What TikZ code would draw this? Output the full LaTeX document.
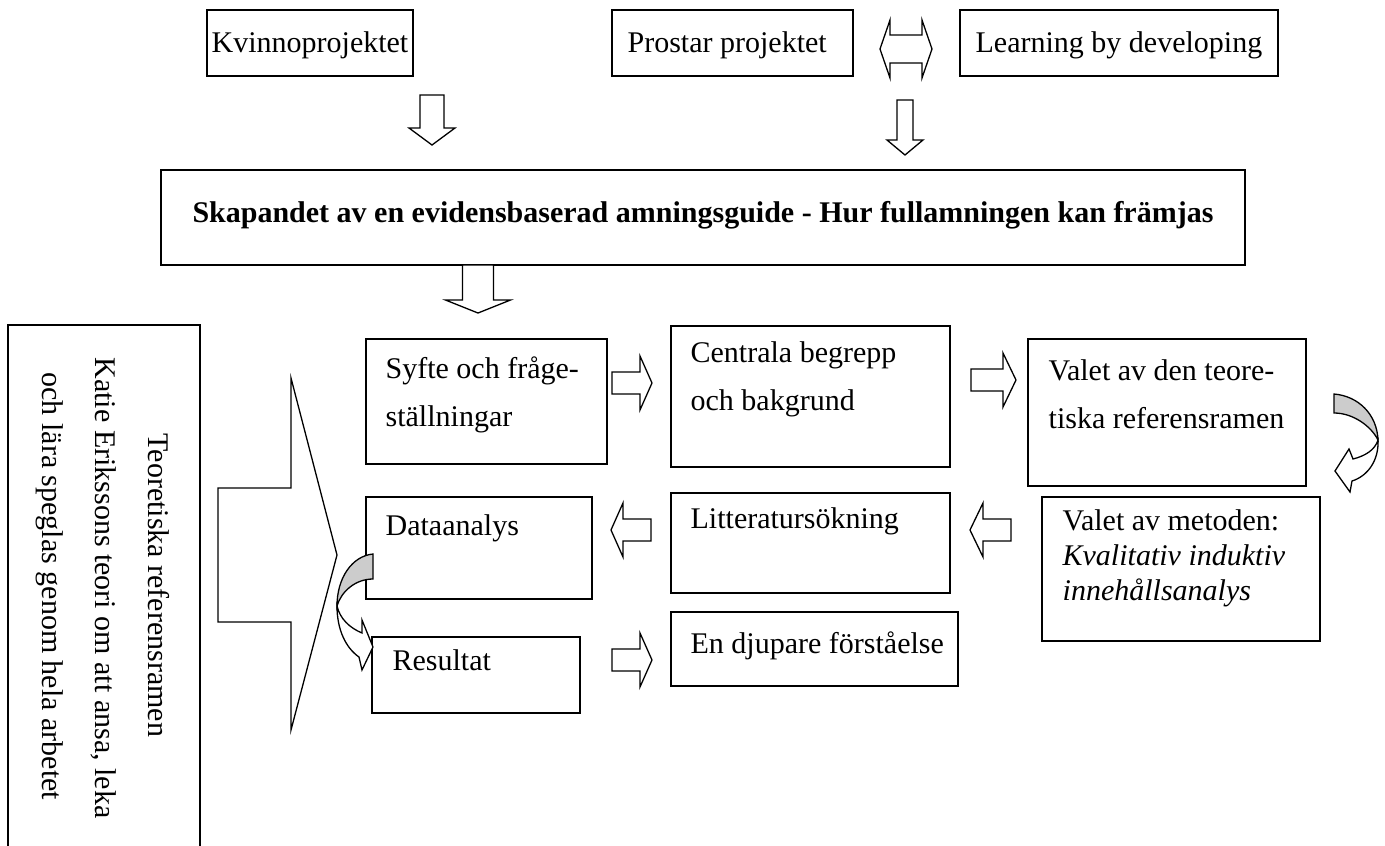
\documentclass[tikz,border=0pt]{standalone}
\usepackage{fontspec}
\setmainfont{Liberation Serif}
\newcommand\blkR[6]{\draw[blk] (#1,#3-#4) -- (#2-#6,#3-#4) -- (#2-#6,#3-#5) -- (#2,#3) -- (#2-#6,#3+#5) -- (#2-#6,#3+#4) -- (#1,#3+#4) -- cycle;}
\newcommand\blkL[6]{\draw[blk] (#2,#3-#4) -- (#1+#6,#3-#4) -- (#1+#6,#3-#5) -- (#1,#3) -- (#1+#6,#3+#5) -- (#1+#6,#3+#4) -- (#2,#3+#4) -- cycle;}
\newcommand\blkD[6]{\draw[blk] (#1-#4,#2) -- (#1-#4,#3-#6) -- (#1-#5,#3-#6) -- (#1,#3) -- (#1+#5,#3-#6) -- (#1+#4,#3-#6) -- (#1+#4,#2) -- cycle;}
\begin{document}
\begin{tikzpicture}[x=1pt,y=-1pt,
  line width=1.3pt, line join=miter,
  box/.style={draw, rectangle, inner sep=0pt, outer sep=0pt, anchor=north west},
  txt/.style={inner sep=0pt, anchor=base west, align=left, font=\fontsize{30}{48}\selectfont},
  blk/.style={draw, fill=white},
  curl/.style={draw, fill=gray!40}]
\useasboundingbox (0,0) rectangle (1385,846);

% top row
\node[box, minimum width=206pt, minimum height=66pt] (kvinno) at (207,10) {};
\node[box, minimum width=241pt, minimum height=66pt] (prostar) at (612,10) {};
\node[box, minimum width=318pt, minimum height=66pt] (learning) at (960,10) {};
\node[txt, anchor=base] (kvinnotxt) at (310,52) {Kvinnoprojektet};
\node[txt] (prostartxt) at (627,52) {Prostar projektet};
\node[txt] (learningtxt) at (975,52) {Learning by developing};

% double arrow
\draw[blk] (880,49) -- (890,20) -- (890,35) -- (922,35) -- (922,20) -- (932,49) -- (922,78) -- (922,63) -- (890,63) -- (890,78) -- cycle;

% down arrows
\blkD{432}{95}{145}{12}{23}{17}
\blkD{905}{100}{155}{8}{18}{15}

% title
\node[box, minimum width=1084pt, minimum height=95pt] (title) at (161,170) {};
\node[inner sep=0pt, anchor=base, font=\bfseries\fontsize{30}{36}\selectfont] (titletxt) at (703,222) {Skapandet av en evidensbaserad amningsguide - Hur fullamningen kan främjas};
\blkD{478}{265}{313}{15.5}{32.5}{13}

% left box
\node[box, minimum width=192pt, minimum height=560pt] (theory) at (8,325) {};
\node[txt, rotate=-90, font=\fontsize{30}{53}\selectfont] (theorytxt) at (42,357) {\hspace*{76pt}Teoretiska referensramen\\Katie Erikssons teori om att ansa, leka\\\hspace*{15pt}och lära speglas genom hela arbetet};

% big arrow
\draw[blk] (218,488) -- (291,488) -- (291,378) -- (337,555) -- (291,730) -- (291,622) -- (218,622) -- cycle;

% process boxes
\node[box, minimum width=241pt, minimum height=125pt] (syfte) at (366,339) {};
\node[box, minimum width=279pt, minimum height=141pt] (centrala) at (671,326) {};
\node[box, minimum width=278pt, minimum height=147pt] (valetT) at (1028,339) {};
\node[box, minimum width=278pt, minimum height=144pt] (valetM) at (1042,497) {};
\node[box, minimum width=226pt, minimum height=102pt] (data) at (366,497) {};
\node[box, minimum width=279pt, minimum height=100pt] (litt) at (671,493) {};
\node[box, minimum width=208pt, minimum height=76pt] (result) at (372,637) {};
\node[box, minimum width=287pt, minimum height=74pt] (djup) at (671,612) {};

\node[txt] (syftetxt) at (385,426) {Syfte och fråge-\\ställningar};
\node[txt] (centralatxt) at (690,410) {Centrala begrepp\\och bakgrund};
\node[txt] (valetTtxt) at (1048,428) {Valet av den teore-\\tiska referensramen};
\node[txt, font=\fontsize{30}{35}\selectfont] (valetMtxt) at (1062,600) {Valet av metoden:\\\textit{Kvalitativ induktiv}\\\textit{innehållsanalys}};
\node[txt] (datatxt) at (385,535) {Dataanalys};
\node[txt] (litttxt) at (690,528) {Litteratursökning};
\node[txt] (resulttxt) at (392,670) {Resultat};
\node[txt] (djuptxt) at (690,653) {En djupare förståelse};

% small block arrows
\blkR{612}{652}{383}{11}{27}{12}
\blkR{971}{1016}{380}{11}{27}{13}
\blkL{611}{651}{530}{11}{27}{12}
\blkL{970}{1011}{530}{11}{27}{13}
\blkR{612}{652}{660}{11}{27}{12}

% curved arrows
\draw[curl] (1334,394) .. controls (1358,396) and (1377,414) .. (1378,440) .. controls (1371,426) and (1353,413) .. (1334,413) -- cycle;
\draw[blk] (1378,440) .. controls (1379,460) and (1368,476) .. (1352,481) -- (1350,492) -- (1335,471) -- (1349,449) -- (1353,459) .. controls (1365,456) and (1375,450) .. (1378,440) -- cycle;

\draw[curl] (373,554) .. controls (352,556) and (337,578) .. (337,606) .. controls (341,592) and (355,579) .. (373,579) -- cycle;
\draw[blk] (337,606) .. controls (337,630) and (346,648) .. (359,657) -- (362,670) -- (373,647) -- (362,620) -- (362,633) .. controls (350,628) and (340,619) .. (337,606) -- cycle;
\end{tikzpicture}
\end{document}
